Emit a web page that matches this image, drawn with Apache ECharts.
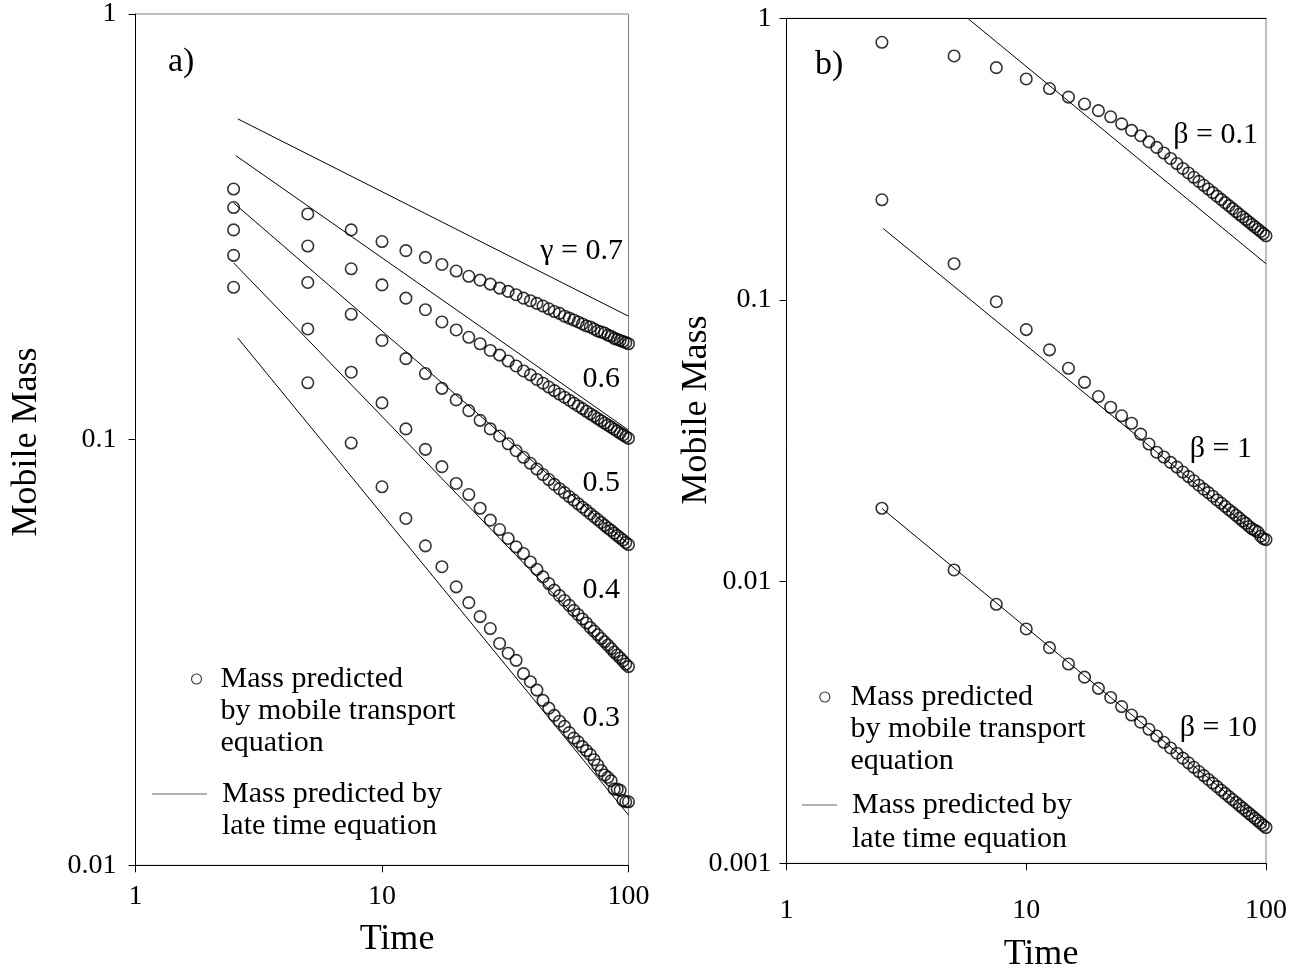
<!DOCTYPE html>
<html>
<head>
<meta charset="utf-8">
<script src="https://cdn.jsdelivr.net/npm/echarts@6/dist/echarts.min.js"></script>
<style>
html,body{margin:0;padding:0;background:#fff;}
#c{width:1304px;height:971px;}
</style>
</head>
<body>
<div id="c"></div>
<script>
// ---- data ----
const times = [2.5,5,7.5,10,12.5,15,17.5,20,22.5,25,27.5,30,32.5,35,37.5,40,42.5,45,47.5,50,
  52.5,55,57.5,60,62.5,65,67.5,70,72.5,75,77.5,80,82.5,85,87.5,90,92.5,95,97.5,100];

const gamma07 = [0.388,0.339,0.311,0.292,0.278,0.268,0.258,0.249,0.242,0.237,0.232,0.227,
  0.223,0.219,0.215,0.212,0.209,0.206,0.203,0.200,0.198,0.195,0.193,0.191,0.189,0.187,0.185,0.184,
  0.182,0.180,0.179,0.178,0.176,0.175,0.173,0.172,0.171,0.170,0.169,0.168];
const gamma06 = [0.351,0.285,0.252,0.231,0.215,0.202,0.189,0.181,0.174,0.168,0.162,0.158,
  0.153,0.149,0.145,0.142,0.1385,0.1357,0.1329,0.1304,0.128,0.1258,0.1238,0.1218,0.12,0.1183,0.1166,0.115,
  0.1136,0.1121,0.1107,0.1094,0.1082,0.107,0.1058,0.1047,0.1036,0.1026,0.1017,0.1007];
const gamma05 = [0.311,0.234,0.197,0.171,0.155,0.143,0.132,0.124,0.117,0.111,0.106,0.102,
  0.0978,0.0942,0.0909,0.088,0.0853,0.0828,0.0806,0.0785,0.0767,0.0751,0.0735,0.0721,0.0707,0.0694,0.0682,0.067,
  0.0659,0.0649,0.0639,0.0629,0.062,0.0612,0.0603,0.0595,0.0588,0.0581,0.0573,0.0567];
const gamma04 = [0.271,0.182,0.144,0.122,0.106,0.0949,0.0864,0.0789,0.0743,0.069,0.0647,0.0615,
  0.0586,0.056,0.054,0.0516,0.0496,0.0476,0.0459,0.0443,0.043,0.0419,0.0408,0.0397,0.0388,0.0379,0.0371,0.0362,
  0.0355,0.0348,0.0341,0.0335,0.0329,0.0323,0.0317,0.0312,0.0307,0.0302,0.0297,0.0293];
const gamma03 = [0.228,0.136,0.0982,0.0775,0.0653,0.0563,0.0503,0.0451,0.0414,0.0384,0.036,0.0332,
  0.0315,0.0303,0.0282,0.027,0.0258,0.0244,0.0234,0.0225,0.0218,0.0212,0.0205,0.0199,0.0195,0.019,0.0186,0.0182,
  0.0177,0.0172,0.0167,0.0163,0.0161,0.0158,0.0151,0.0151,0.015,0.0142,0.0141,0.0141];

const beta01 = [0.822,0.735,0.668,0.609,0.563,0.525,0.496,0.47,0.447,0.422,0.4,0.383,
  0.364,0.348,0.3325,0.318,0.305,0.293,0.2825,0.2726,0.2636,0.2553,0.2476,0.2404,0.2337,0.2275,0.2216,0.2162,
  0.211,0.2061,0.2015,0.1971,0.193,0.189,0.1853,0.1817,0.1783,0.1751,0.172,0.169];
const beta1 = [0.2268,0.1345,0.0986,0.0785,0.0665,0.0572,0.051,0.0454,0.0416,0.0388,0.0365,0.0334,
  0.0308,0.0288,0.0277,0.0265,0.0255,0.0245,0.0236,0.0228,0.022,0.0213,0.0207,0.0201,0.0195,0.019,0.0185,0.018,
  0.0176,0.0172,0.0168,0.0164,0.0161,0.0157,0.0154,0.0152,0.015,0.0145,0.0142,0.0141];
const beta10 = [0.01822,0.011,0.00831,0.00679,0.00583,0.0051,0.00458,0.00418,0.00388,0.0036,0.00336,0.00317,
  0.00299,0.00283,0.002689,0.002568,0.00246,0.002362,0.002273,0.002192,0.002117,0.002048,0.001985,0.001926,
  0.001871,0.001819,0.001771,0.001726,0.001684,0.001644,0.001606,0.00157,0.001536,0.001504,0.001473,0.001444,
  0.001416,0.00139,0.001364,0.00134];

// late time equation lines: [start, end] times and values
const lateT07 = [2.6, 100],  late07 = [0.567, 0.195];
const lateT06 = [2.55, 100], late06 = [0.465, 0.1053];
const lateT05 = [2.5, 100],  late05 = [0.36, 0.0569];
const lateT04 = [2.5, 100],  late04 = [0.2603, 0.0285];
const lateT03 = [2.6, 100],  late03 = [0.1733, 0.01312];
const lateTb01 = [5.7, 100], lateb01 = [1.0, 0.1345];
const lateTb1 = [2.53, 100], lateb1 = [0.1794, 0.0139];
const lateTb10 = [2.5, 100], lateb10 = [0.0182, 0.00136];

const xTickLabels = ['1', '10', '100'];
const yTickLabelsA = ['0.01', '0.1', '1'];
const yTickLabelsB = ['0.001', '0.01', '0.1', '1'];

const gammaLabels = ['γ = 0.7', '0.6', '0.5', '0.4', '0.3'];
const betaLabels = ['β = 0.1', 'β = 1', 'β = 10'];

// ---- chart ----
const FONT = "'Liberation Serif','Times New Roman',serif";
const MOBILE = 'Mass predicted by mobile transport equation';
const LATE = 'Mass predicted by late time equation';

function pairs(ts, vs) { return ts.map((t, i) => [t, vs[i]]); }
function decadeLabel(labels, minExp) {
  return function (v) {
    const e = Math.round(Math.log10(v));
    return labels[e - minExp] !== undefined ? labels[e - minExp] : '';
  };
}

function circles(name, vals, gi) {
  return {
    type: 'scatter', name: name, xAxisIndex: gi, yAxisIndex: gi,
    data: pairs(times, vals), symbol: 'circle', symbolSize: 11.5,
    itemStyle: { color: 'rgba(0,0,0,0)', borderColor: '#000', borderWidth: 1.6 },
    z: 3, silent: true
  };
}
function lateLine(ts, vs, gi) {
  return {
    type: 'line', name: LATE, xAxisIndex: gi, yAxisIndex: gi,
    data: pairs(ts, vs), symbol: 'none', clip: true,
    lineStyle: { color: '#000', width: 1 }, z: 2, silent: true
  };
}

function xAxisCfg(gi, margin) {
  return {
    type: 'log', logBase: 10, min: 1, max: 100, gridIndex: gi,
    axisLine: { show: true, lineStyle: { color: '#000', width: 1 } },
    axisTick: { show: true, inside: false, length: 7, lineStyle: { color: '#000' } },
    minorTick: { show: false }, splitLine: { show: false },
    axisLabel: { color: '#000', fontFamily: FONT, fontSize: 28, margin: margin,
      formatter: decadeLabel(xTickLabels, 0) }
  };
}
function yAxisCfg(gi, min, labels, minExp, margin) {
  return {
    type: 'log', logBase: 10, min: min, max: 1, gridIndex: gi,
    axisLine: { show: true, lineStyle: { color: '#000', width: 1 } },
    axisTick: { show: true, inside: false, length: 7, lineStyle: { color: '#000' } },
    minorTick: { show: false }, splitLine: { show: false },
    axisLabel: { color: '#000', fontFamily: FONT, fontSize: 28, margin: margin,
      formatter: decadeLabel(labels, minExp) }
  };
}

function txt(text, x, y, size, align, rot) {
  return {
    type: 'text', x: x, y: y, rotation: rot || 0, silent: true,
    style: { text: text, fill: '#000', font: size + 'px ' + FONT,
      align: align, verticalAlign: 'middle', textAlign: align, textVerticalAlign: 'middle' }
  };
}

// legend text lines; leading blank lines keep the icon level with the first line
const legendText = {};
legendText[MOBILE] = '\n\nMass predicted\nby mobile transport\nequation';
legendText[LATE] = '\nMass predicted by\nlate time equation';

function legendCfg(name, left, top, icon, w, h, style, padLeft, lh) {
  return {
    left: left, top: top, orient: 'vertical', padding: 0, selectedMode: false,
    itemWidth: w, itemHeight: h,
    data: [{ name: name, icon: icon, itemStyle: style }],
    formatter: function (n) { return legendText[n]; },
    textStyle: { color: '#000', fontFamily: FONT, fontSize: 30, lineHeight: lh,
      padding: [0, 0, 0, padLeft] }
  };
}

const chart = echarts.init(document.getElementById('c'), null, { renderer: 'canvas' });
const circleStyle = { color: 'rgba(0,0,0,0)', borderColor: '#000', borderWidth: 1.1 };
const lineIconStyle = { color: '#666', borderWidth: 0 };

chart.setOption({
  animation: false,
  backgroundColor: '#fff',
  grid: [
    { left: 135.5, top: 14, width: 493, height: 851.3, show: true, borderColor: '#808080', borderWidth: 1, containLabel: false },
    { left: 786.5, top: 18.3, width: 479.5, height: 845, show: true, borderColor: '#808080', borderWidth: 1, containLabel: false }
  ],
  xAxis: [
    xAxisCfg(0, 17),
    xAxisCfg(1, 33),
    { type: 'log', logBase: 10, min: 1, max: 100, gridIndex: 1, position: 'top',
      axisLine: { show: true, lineStyle: { color: '#000', width: 1 } },
      axisTick: { show: false }, axisLabel: { show: false }, splitLine: { show: false } }
  ],
  yAxis: [
    yAxisCfg(0, 0.01, yTickLabelsA, -2, 19),
    yAxisCfg(1, 0.001, yTickLabelsB, -3, 15)
  ],
  legend: [
    legendCfg(MOBILE, 191, 679 - 80, 'circle', 10, 10, circleStyle, 14, 32),
    legendCfg(LATE, 152, 794 - 48, 'rect', 55, 1, lineIconStyle, 10, 32),
    legendCfg(MOBILE, 819.3, 697 - 80, 'circle', 10, 10, circleStyle, 15.7, 32),
    legendCfg(LATE, 802, 805 - 51, 'rect', 35, 1, lineIconStyle, 10, 34)
  ],
  series: [
    lateLine(lateT07, late07, 0),
    lateLine(lateT06, late06, 0),
    lateLine(lateT05, late05, 0),
    lateLine(lateT04, late04, 0),
    lateLine(lateT03, late03, 0),
    circles(MOBILE, gamma07, 0),
    circles(MOBILE, gamma06, 0),
    circles(MOBILE, gamma05, 0),
    circles(MOBILE, gamma04, 0),
    circles(MOBILE, gamma03, 0),
    lateLine(lateTb01, lateb01, 1),
    lateLine(lateTb1, lateb1, 1),
    lateLine(lateTb10, lateb10, 1),
    circles(MOBILE, beta01, 1),
    circles(MOBILE, beta1, 1),
    circles(MOBILE, beta10, 1)
  ],
  graphic: [
    txt('a)', 168, 62, 34, 'left'),
    txt('b)', 815, 65, 34, 'left'),
    txt('Mobile Mass', 27, 442, 36, 'center', Math.PI / 2),
    txt('Mobile Mass', 697, 410, 36, 'center', Math.PI / 2),
    txt('Time', 397, 940, 36, 'center'),
    txt('Time', 1041, 955, 36, 'center'),
    txt(gammaLabels[0], 623, 251, 30, 'right'),
    txt(gammaLabels[1], 620, 379, 30, 'right'),
    txt(gammaLabels[2], 620, 483, 30, 'right'),
    txt(gammaLabels[3], 620, 590, 30, 'right'),
    txt(gammaLabels[4], 620, 718, 30, 'right'),
    txt(betaLabels[0], 1258, 135, 30, 'right'),
    txt(betaLabels[1], 1252, 449, 30, 'right'),
    txt(betaLabels[2], 1257, 728, 30, 'right')
  ]
});
</script>
</body>
</html>
